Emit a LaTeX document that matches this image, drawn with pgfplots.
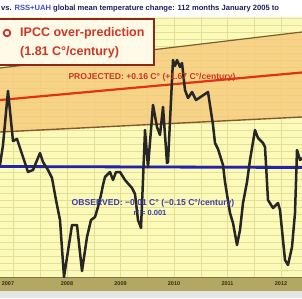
\documentclass[border=0pt]{standalone}
\usepackage{fontspec}
\setmainfont{Liberation Sans}
\usepackage{pgfplots}
\pgfplotsset{compat=1.18}
\definecolor{plotbg}{RGB}{252,250,185}
\definecolor{gridc}{RGB}{228,222,150}
\definecolor{bandc}{RGB}{245,202,122}
\definecolor{upperc}{RGB}{120,95,50}
\definecolor{lowerc}{RGB}{130,90,45}
\definecolor{projc}{RGB}{225,50,20}
\definecolor{obsc}{RGB}{35,35,175}
\definecolor{obstxt}{RGB}{60,60,170}
\definecolor{olivec}{RGB}{178,168,100}
\definecolor{boxred}{RGB}{140,40,25}
\definecolor{boxfill}{RGB}{255,250,232}
\definecolor{txtred}{RGB}{205,55,35}
\definecolor{navy}{RGB}{30,30,90}
\definecolor{rssblue}{RGB}{60,80,200}
\definecolor{yeartxt}{RGB}{50,45,20}
\begin{document}
\begin{tikzpicture}[x=1pt,y=1pt]
\useasboundingbox (0,0) rectangle (302,298);
\clip (0,0) rectangle (302,298);
\fill[white] (0,0) rectangle (302,298);
\fill[gray!20] (0,0) rectangle (302,7);
\fill[olivec] (0,7) rectangle (302,21);
\draw[olivec!70!black, line width=0.6pt] (0,21) -- (302,21);
\node[anchor=west, text=navy, font=\bfseries\fontsize{7.6}{8}\selectfont, inner sep=0pt] at (1,289)
  {vs. \textcolor{rssblue}{RSS+UAH} global mean temperature change: 112 months January 2005 to};
\foreach \xx/\yy in {8/2007,67/2008,120.5/2009,174/2010,227.5/2011,281/2012}
  \node[text=yeartxt, font=\bfseries\fontsize{5.5}{6}\selectfont, inner sep=0pt] at (\xx,14) {\yy};
\begin{axis}[
  at={(0,21)}, anchor=south west,
  scale only axis, width=302pt, height=260pt,
  xmin=0, xmax=302, ymin=-277, ymax=-17,
  y filter/.expression={-y},
  axis line style={draw=none}, tick style={draw=none},
  xticklabels={}, yticklabels={},
  xtick={13.5,40.25,...,300}, ytick={-270,-263,...,-18},
  grid=major, major grid style={gridc, line width=0.5pt},
  axis background/.style={fill=plotbg},
  clip=true,
]
\addplot[fill=bandc, fill opacity=0.8, draw=none] coordinates {(0,68)(302,32)(302,117)(0,132)} -- cycle;
\addplot[upperc, line width=1.2pt] coordinates {(0,68)(302,32)};
\addplot[lowerc, line width=1.4pt] coordinates {(0,132)(302,117)};
\addplot[projc, line width=2.2pt] coordinates {(0,100)(302,72.5)};
\addplot[obsc, line width=2.8pt] coordinates {(0,166.5)(302,167.5)};
\addplot[black!85, line width=2.5pt, line join=round] coordinates {
(0,165)(3,145)(8,91)(13,141)(17,139)(23,157)(28,172)(33,170)(40,153)(43,162)(48,170)(52,178)(56,200)(60,220)(64,277)(72,225)(77,225)(82,271)(87,237)(91,220)(95,217)(98,207)(101,195)(103,185)(105,177)(110,172)(113,180)(116,172)(120,172)(125,180)(132,188)(135,194)(138,220)(141,228)(143,180)(145,130)(148,167)(153,105)(157,127)(160,135)(163,107)(167,163)(168,162)(172,80)(173,60)(175,66)(177,60)(180,67)(182,63)(185,90)(188,98)(192,92)(196,100)(202,96)(208,92)(213,125)(215,143)(218,149)(223,165)(225,182)(230,213)(233,223)(237,245)(240,230)(243,203)(247,182)(250,160)(255,130)(258,138)(263,143)(265,147)(268,200)(273,208)(278,203)(280,210)(285,260)(288,265)(292,247)(295,213)(297,150)(300,160)(302,158)
};
\draw[boxred, line width=2.5pt, fill=boxfill] (axis cs:-5,-19) rectangle (axis cs:154,-65);
\draw[txtred, line width=1.8pt, fill=white] (axis cs:7,-33) circle[radius=3.3pt];
\node[anchor=west, text=txtred, font=\bfseries\fontsize{12.5}{14}\selectfont, inner sep=0pt] at (axis cs:20,-33) {IPCC over-prediction};
\node[anchor=west, text=txtred, font=\bfseries\fontsize{12.5}{14}\selectfont, inner sep=0pt] at (axis cs:20,-52) {(1.81 C°/century)};
\node[text=txtred, font=\bfseries\fontsize{8.6}{9}\selectfont, inner sep=0pt] at (axis cs:152,-77) {PROJECTED: +0.16 C° (+1.67 C°/century)};
\node[text=obstxt, font=\bfseries\fontsize{8.6}{9}\selectfont, inner sep=0pt] at (axis cs:153,-203) {OBSERVED: −0.01 C° (−0.15 C°/century)};
\node[text=obstxt, font=\bfseries\fontsize{7.5}{8}\selectfont, inner sep=0pt] at (axis cs:150,-212.5) {r² = 0.001};
\end{axis}
\end{tikzpicture}
\end{document}
